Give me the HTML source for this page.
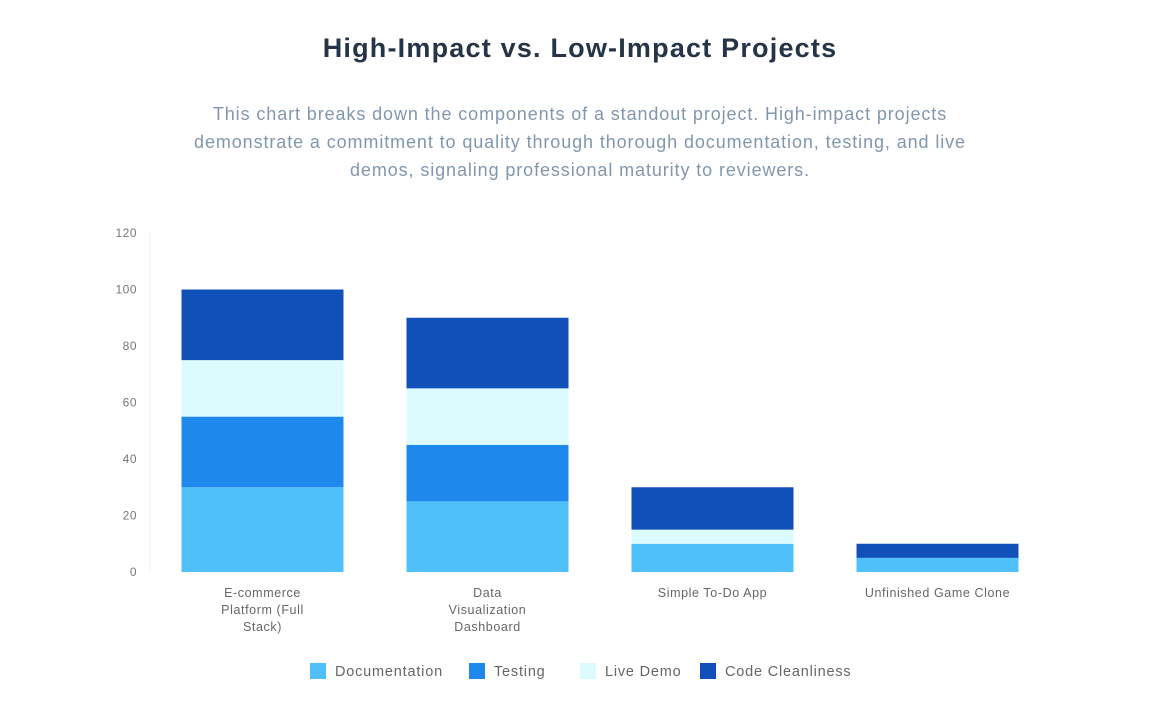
<!DOCTYPE html>
<html><head><meta charset="utf-8"><style>
body{margin:0;background:#fff;width:1152px;height:720px;overflow:hidden;font-family:"Liberation Sans",sans-serif}
#title{position:absolute;top:33px;left:0;width:1160px;text-align:center;font-size:27px;letter-spacing:1.2px;font-weight:bold;color:#253447}
#sub{position:absolute;top:100px;left:80px;width:1000px;text-align:center;font-size:18px;letter-spacing:0.9px;line-height:28px;color:#8197ad}
svg{position:absolute;left:0;top:0}
</style></head><body>
<div id="title">High-Impact vs. Low-Impact Projects</div>
<div id="sub">This chart breaks down the components of a standout project. High-impact projects<br>demonstrate a commitment to quality through thorough documentation, testing, and live<br>demos, signaling professional maturity to reviewers.</div>
<svg id="chart" width="1152" height="720"></svg>
<script>
const categories=[["E-commerce","Platform (Full","Stack)"],["Data","Visualization","Dashboard"],["Simple To-Do App"],["Unfinished Game Clone"]];
const seriesNames=["Documentation","Testing","Live Demo","Code Cleanliness"];
const documentation=[30,25,10,5];
const testing=[25,20,0,0];
const liveDemo=[20,20,5,0];
const codeCleanliness=[25,25,15,5];
const yTicks=[0,20,40,60,80,100,120];
const colors=["#4fc0f9","#1e88ec","#dcfbff","#1150b8"];
const series=[documentation,testing,liveDemo,codeCleanliness];
const NS="http://www.w3.org/2000/svg";
const svg=document.getElementById('chart');
const x0=150,x1=1050,yBase=572,yTop=233,yMax=120;
const y=v=>yBase-(v/yMax)*(yBase-yTop);
const band=(x1-x0)/categories.length, bw=band*0.72;
function mk(t,a){const e=document.createElementNS(NS,t);for(const k in a)e.setAttribute(k,a[k]);svg.appendChild(e);return e;}
const ax=mk('line',{x1:x0,x2:x0,y1:yTop,y2:yBase,stroke:'#f0f0f0'});


yTicks.forEach(t=>{
  const tx=mk('text',{x:137,y:y(t)+4,'text-anchor':'end','font-size':12,'letter-spacing':0.5,fill:'#777'});
  tx.textContent=t;
  
  
});
categories.forEach((c,i)=>{
  const cx=x0+band*(i+0.5);
  let cum=0;
  series.forEach((s,j)=>{
    const v=s[i]; if(!v)return;
    const r=mk('rect',{x:cx-bw/2,y:y(cum+v),width:bw,height:y(cum)-y(cum+v),fill:colors[j]});
    
    
    cum+=v;
  });
  c.forEach((ln,k)=>{
    const t=mk('text',{x:cx,y:597+k*17,'text-anchor':'middle','font-size':12.5,'letter-spacing':0.6,fill:'#666'});
    t.textContent=ln;
    
    
  });
});
const legX=[310,469,580,700];
seriesNames.forEach((n,j)=>{
  const r=mk('rect',{x:legX[j],y:663,width:16,height:16,fill:colors[j]});
  
  
  const t=mk('text',{x:legX[j]+25,y:676,'font-size':14.5,'letter-spacing':0.8,fill:'#666'});
  t.textContent=n;
  
  
});
</script>
</body></html>
